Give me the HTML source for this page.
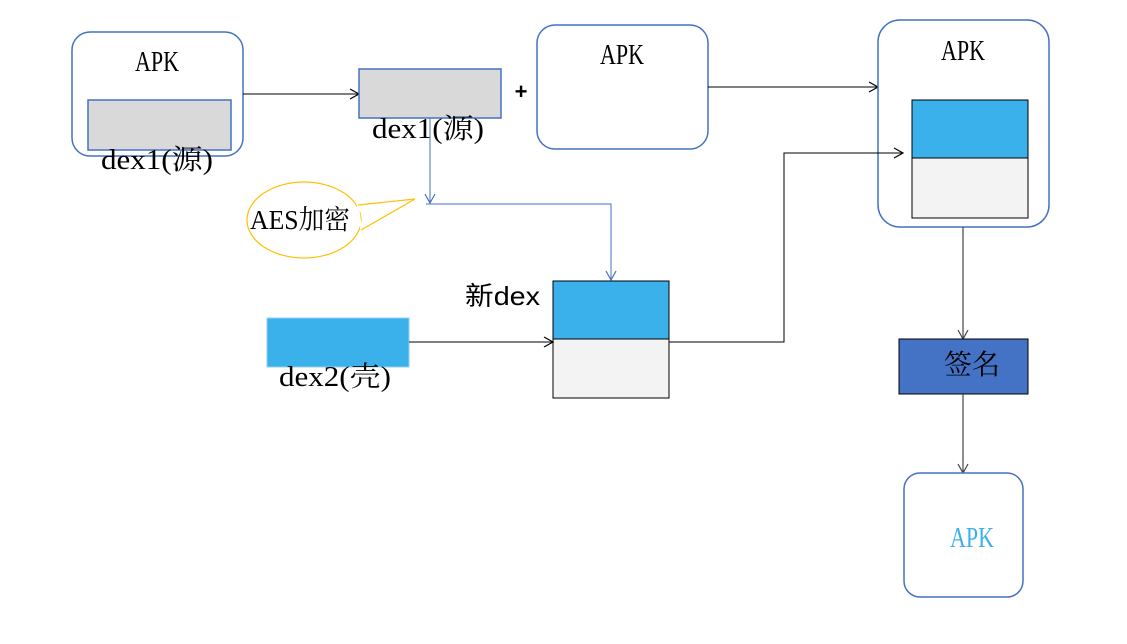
<!DOCTYPE html>
<html><head><meta charset="utf-8"><style>
html,body{margin:0;padding:0;background:#fff;}
svg{display:block;}
.s{font-family:"Liberation Serif","Noto Serif CJK SC",serif;}
.a{font-family:"Liberation Sans","Noto Sans CJK SC",sans-serif;}
</style></head><body>
<svg width="1127" height="644" viewBox="0 0 1127 644" xmlns="http://www.w3.org/2000/svg">
<defs>
<marker id="ab" markerWidth="12" markerHeight="12" refX="10" refY="6" orient="auto" markerUnits="userSpaceOnUse"><path d="M1,1 L10,6 L1,11" fill="none" stroke="#000" stroke-width="1.2"/></marker>
<marker id="ag" markerWidth="12" markerHeight="12" refX="10" refY="6" orient="auto" markerUnits="userSpaceOnUse"><path d="M1,1 L10,6 L1,11" fill="none" stroke="#444" stroke-width="1.2"/></marker>
<marker id="au" markerWidth="12" markerHeight="12" refX="10" refY="6" orient="auto" markerUnits="userSpaceOnUse"><path d="M1,1 L10,6 L1,11" fill="none" stroke="#4472c4" stroke-width="1.2"/></marker>
</defs>
<rect x="72" y="32" width="171" height="124" rx="18" fill="#fff" stroke="#4472c4" stroke-width="1.5"/>
<text x="157" y="71" class="s" font-size="29" text-anchor="middle" textLength="44" lengthAdjust="spacingAndGlyphs">APK</text>
<rect x="88" y="100" width="143" height="50" fill="#d9d9d9" stroke="#4472c4" stroke-width="1.5"/>
<text x="157" y="169" class="s" font-size="28" text-anchor="middle" textLength="112" lengthAdjust="spacingAndGlyphs">dex1(源)</text>
<line x1="243" y1="94" x2="359" y2="94" stroke="#000" stroke-width="1" marker-end="url(#ab)"/>
<rect x="359" y="69" width="142" height="49" fill="#d9d9d9" stroke="#4472c4" stroke-width="1.5"/>
<text x="428" y="138" class="s" font-size="28" text-anchor="middle" textLength="112" lengthAdjust="spacingAndGlyphs">dex1(源)</text>
<text x="521" y="99" class="a" font-size="22" font-weight="bold" text-anchor="middle">+</text>
<rect x="537" y="25" width="171" height="124" rx="18" fill="#fff" stroke="#4472c4" stroke-width="1.5"/>
<text x="622" y="64" class="s" font-size="29" text-anchor="middle" textLength="44" lengthAdjust="spacingAndGlyphs">APK</text>
<line x1="708" y1="87" x2="878" y2="87" stroke="#000" stroke-width="1" marker-end="url(#ab)"/>
<rect x="878" y="20" width="171" height="207" rx="22" fill="#fff" stroke="#4472c4" stroke-width="1.5"/>
<text x="963" y="60" class="s" font-size="29" text-anchor="middle" textLength="44" lengthAdjust="spacingAndGlyphs">APK</text>
<rect x="912" y="100" width="116" height="58" fill="#3bb1ec" stroke="#000" stroke-width="1"/>
<rect x="912" y="158" width="116" height="60" fill="#f3f3f3" stroke="#000" stroke-width="1"/>
<line x1="430" y1="118" x2="430" y2="203" stroke="#4472c4" stroke-width="1" marker-end="url(#au)"/>
<polyline points="426,204 611,204 611,280" fill="none" stroke="#4472c4" stroke-width="1" marker-end="url(#au)"/>
<path d="M358,205 L415,199 L361,230" fill="#fff" stroke="#ffc000" stroke-width="1.2"/>
<ellipse cx="304" cy="220" rx="57" ry="38" fill="#fff" stroke="#ffc000" stroke-width="1.2"/>
<path d="M358,206 L361,229" stroke="#fff" stroke-width="2"/>
<text x="300" y="229" class="s" font-size="27" text-anchor="middle" textLength="100" lengthAdjust="spacingAndGlyphs">AES加密</text>
<text x="465" y="305" class="a" font-size="26" textLength="75" lengthAdjust="spacingAndGlyphs">新dex</text>
<rect x="553" y="281" width="116" height="58" fill="#3bb1ec" stroke="#000" stroke-width="1"/>
<rect x="553" y="339" width="116" height="59" fill="#f3f3f3" stroke="#000" stroke-width="1"/>
<rect x="267" y="318" width="142" height="49" fill="#3bb1ec" stroke="#8fd0f4" stroke-width="1"/>
<text x="335" y="386" class="s" font-size="28" text-anchor="middle" textLength="112" lengthAdjust="spacingAndGlyphs">dex2(壳)</text>
<line x1="409" y1="342" x2="553" y2="342" stroke="#000" stroke-width="1" marker-end="url(#ab)"/>
<polyline points="669,342 784,342 784,153 903,153" fill="none" stroke="#000" stroke-width="1" marker-end="url(#ab)"/>
<line x1="963" y1="227" x2="963" y2="339" stroke="#444" stroke-width="1.2" marker-end="url(#ag)"/>
<rect x="899" y="339" width="129" height="55" fill="#4472c4" stroke="#000" stroke-width="1"/>
<text x="972" y="374" class="s" font-size="28" text-anchor="middle">签名</text>
<line x1="963" y1="394" x2="963" y2="473" stroke="#444" stroke-width="1.2" marker-end="url(#ag)"/>
<rect x="904" y="473" width="119" height="124" rx="16" fill="#fff" stroke="#4472c4" stroke-width="1.5"/>
<text x="972" y="547" class="s" font-size="29" fill="#3bb1ec" text-anchor="middle" textLength="44" lengthAdjust="spacingAndGlyphs">APK</text>
</svg>
</body></html>
